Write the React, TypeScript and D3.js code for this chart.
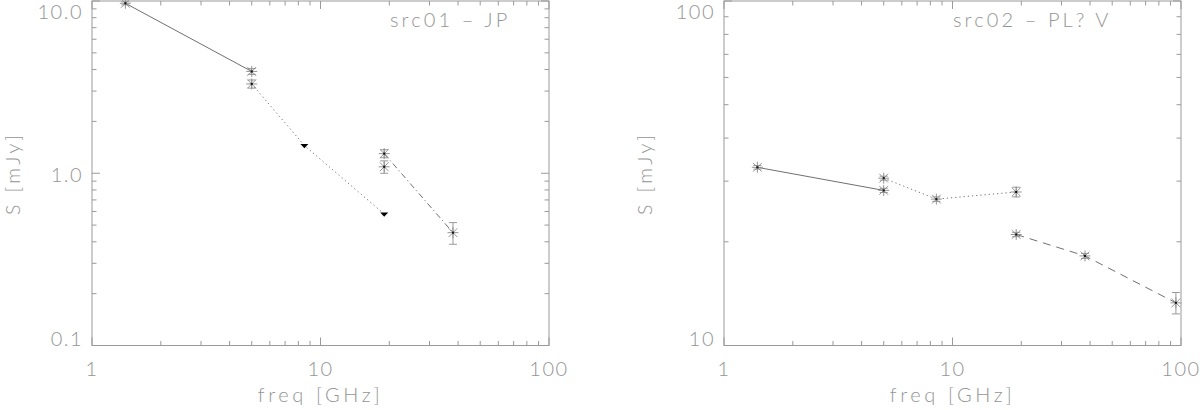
import React from "react";
import * as d3 from "d3";

// ---------- data ----------
// Panel 1: src01 – JP
const p1Freq = [1.4, 5.0, 5.0, 19, 19, 38];
const p1Flux = [9.7, 3.9, 3.3, 1.3, 1.09, 0.452];
const p1Err = [0.2, 0.15, 0.18, 0.07, 0.09, 0.065];
const p1LimFreq = [8.5, 19];
const p1LimFlux = [1.45, 0.58];
const p1SolidFreq = [1.4, 5.0];
const p1SolidFlux = [9.7, 3.9];
const p1DotFreq = [5.0, 8.5, 19];
const p1DotFlux = [3.3, 1.45, 0.58];
const p1DashDotFreq = [19, 38];
const p1DashDotFlux = [1.3, 0.452];

// Panel 2: src02 – PL? V
const p2Freq = [1.4, 5.0, 5.0, 8.5, 19, 19, 38, 95];
const p2Flux = [32.9, 30.6, 28.2, 26.6, 27.9, 21.0, 18.2, 13.3];
const p2Err = [0.4, 0.4, 0.4, 0.4, 0.9, 0.3, 0.3, 0.95];
const p2SolidFreq = [1.4, 5.0];
const p2SolidFlux = [32.9, 28.2];
const p2DotFreq = [5.0, 8.5, 19];
const p2DotFlux = [30.6, 26.6, 27.9];
const p2DashFreq = [19, 38, 95];
const p2DashFlux = [21.0, 18.2, 13.3];

const xTickLabels = ["1", "10", "100"];
const p1YTickLabels = ["0.1", "1.0", "10.0"];
const p2YTickLabels = ["10", "100"];
const titles = ["src01 – JP", "src02 – PL? V"];
const xTitle = "freq [GHz]";
const yTitle = "S [mJy]";

// ---------- style ----------
const FONT = "Lato, 'DejaVu Sans', sans-serif";
const AX = "#9a9a9a";
const TXT = "#959595";
const LN = "#707070";
const STAR = "#8a8a8a";

type Seg = { f: number[]; s: number[]; dash: string };

interface PanelProps {
  ox: number;
  yDomain: [number, number];
  yLabels: string[];
  freq: number[];
  flux: number[];
  err: number[];
  limF?: number[];
  limS?: number[];
  segs: Seg[];
  title: string;
  titleX: number;
}

const TOP = 1;
const BOTTOM = 345.5;
const W = 457;

function Panel(p: PanelProps) {
  const x = d3.scaleLog().domain([1, 100]).range([0, W]);
  const y = d3.scaleLog().domain(p.yDomain).range([BOTTOM, TOP]);
  const line = d3
    .line<[number, number]>()
    .x((d) => x(d[0]))
    .y((d) => y(d[1]));

  const xMinor: number[] = [];
  for (let dec = 1; dec < 100; dec *= 10)
    for (let k = 2; k <= 9; k++) xMinor.push(dec * k);
  const xMajor = [1, 10, 100];
  const yMinor: number[] = [];
  const yMajor: number[] = [];
  for (let dec = p.yDomain[0]; dec < p.yDomain[1] * 0.999; dec *= 10) {
    yMajor.push(dec);
    for (let k = 2; k <= 9; k++) yMinor.push(dec * k);
  }
  yMajor.push(p.yDomain[1]);

  const MAJ = 8;
  const MIN = 4.5;
  const clampY = (v: number) => Math.max(12, Math.min(338.5, v + 2));

  const star = (cx: number, cy: number, key: string) => {
    const r = 5.5;
    const q = r * 0.8;
    return (
      <g key={key} stroke={STAR} strokeWidth={0.9}>
        <line x1={cx - r} y1={cy} x2={cx + r} y2={cy} />
        <line x1={cx} y1={cy - r} x2={cx} y2={cy + r} />
        <line x1={cx - q} y1={cy - q} x2={cx + q} y2={cy + q} />
        <line x1={cx - q} y1={cy + q} x2={cx + q} y2={cy - q} />
        <rect x={cx - 1} y={cy - 1} width={2} height={2} fill="#111" stroke="none" />
      </g>
    );
  };

  const textProps = {
    fontFamily: FONT,
    fontWeight: 300,
    fontSize: 20,
    fill: TXT,
  };

  return (
    <g transform={`translate(${p.ox},0)`}>
      <rect x={0} y={TOP} width={W} height={BOTTOM - TOP} fill="none" stroke={AX} strokeWidth={1} />
      {xMinor.map((v, i) => (
        <g key={"xm" + i} stroke={AX}>
          <line x1={x(v)} x2={x(v)} y1={BOTTOM} y2={BOTTOM - MIN} />
          <line x1={x(v)} x2={x(v)} y1={TOP} y2={TOP + MIN} />
        </g>
      ))}
      {xMajor.map((v, i) => (
        <g key={"xM" + i}>
          <line x1={x(v)} x2={x(v)} y1={BOTTOM} y2={BOTTOM - MAJ} stroke={AX} />
          <line x1={x(v)} x2={x(v)} y1={TOP} y2={TOP + MAJ} stroke={AX} />
          <text x={x(v)} y={376} textAnchor="middle" letterSpacing={1.5} {...textProps}>
            {xTickLabels[i]}
          </text>
        </g>
      ))}
      {yMinor.map((v, i) => (
        <g key={"ym" + i} stroke={AX}>
          <line x1={0} x2={MIN} y1={y(v)} y2={y(v)} />
          <line x1={W} x2={W - MIN} y1={y(v)} y2={y(v)} />
        </g>
      ))}
      {yMajor.map((v, i) => (
        <g key={"yM" + i}>
          <line x1={0} x2={MAJ} y1={y(v)} y2={y(v)} stroke={AX} />
          <line x1={W} x2={W - MAJ} y1={y(v)} y2={y(v)} stroke={AX} />
          <text
            x={-9}
            y={clampY(y(v))}
            dy="0.36em"
            textAnchor="end"
            letterSpacing={1.5}
            {...textProps}
          >
            {p.yLabels[i]}
          </text>
        </g>
      ))}
      <text x={W / 2} y={402} textAnchor="middle" letterSpacing={3.6} {...textProps}>
        {xTitle}
      </text>
      <text
        transform={`translate(-72,${(TOP + BOTTOM) / 2}) rotate(-90)`}
        textAnchor="middle"
        letterSpacing={3.4}
        {...textProps}
        fontSize={19.5}
      >
        {yTitle}
      </text>
      <text x={p.titleX} y={27} letterSpacing={3.1} {...textProps}>
        {p.title}
      </text>
      {p.segs.map((s, i) => (
        <path
          key={"seg" + i}
          d={line(s.f.map((f, j) => [f, s.s[j]] as [number, number])) || ""}
          fill="none"
          stroke={LN}
          strokeWidth={1}
          strokeDasharray={s.dash}
        />
      ))}
      {p.freq.map((f, i) => {
        const cx = x(f);
        const y1 = y(p.flux[i] + p.err[i]);
        const y2 = y(p.flux[i] - p.err[i]);
        return (
          <g key={"eb" + i} stroke={AX} strokeWidth={1}>
            <line x1={cx} x2={cx} y1={y1} y2={y2} />
            <line x1={cx - 4} x2={cx + 4} y1={y1} y2={y1} />
            <line x1={cx - 4} x2={cx + 4} y1={y2} y2={y2} />
          </g>
        );
      })}
      {p.freq.map((f, i) => star(x(f), y(p.flux[i]), "st" + i))}
      {(p.limF || []).map((f, i) => {
        const cx = x(f);
        const cy = y((p.limS as number[])[i]);
        return (
          <path
            key={"lim" + i}
            d={`M${cx - 4},${cy - 1.5} L${cx + 4},${cy - 1.5} L${cx},${cy + 2.8} Z`}
            fill="#000"
          />
        );
      })}
    </g>
  );
}

export default function App() {
  return (
    <svg
      width={1200}
      height={410}
      style={{ position: "absolute", left: 0, top: 0, background: "#fff" }}
    >
      <rect width={1200} height={410} fill="#fff" />
      <Panel
        ox={92}
        yDomain={[0.1, 10]}
        yLabels={p1YTickLabels}
        freq={p1Freq}
        flux={p1Flux}
        err={p1Err}
        limF={p1LimFreq}
        limS={p1LimFlux}
        segs={[
          { f: p1SolidFreq, s: p1SolidFlux, dash: "" },
          { f: p1DotFreq, s: p1DotFlux, dash: "1.2,3" },
          { f: p1DashDotFreq, s: p1DashDotFlux, dash: "6,3,1.2,3" },
        ]}
        title={titles[0]}
        titleX={298}
      />
      <Panel
        ox={724}
        yDomain={[10, 100]}
        yLabels={p2YTickLabels}
        freq={p2Freq}
        flux={p2Flux}
        err={p2Err}
        segs={[
          { f: p2SolidFreq, s: p2SolidFlux, dash: "" },
          { f: p2DotFreq, s: p2DotFlux, dash: "1.2,3" },
          { f: p2DashFreq, s: p2DashFlux, dash: "8,6" },
        ]}
        title={titles[1]}
        titleX={229}
      />
    </svg>
  );
}
